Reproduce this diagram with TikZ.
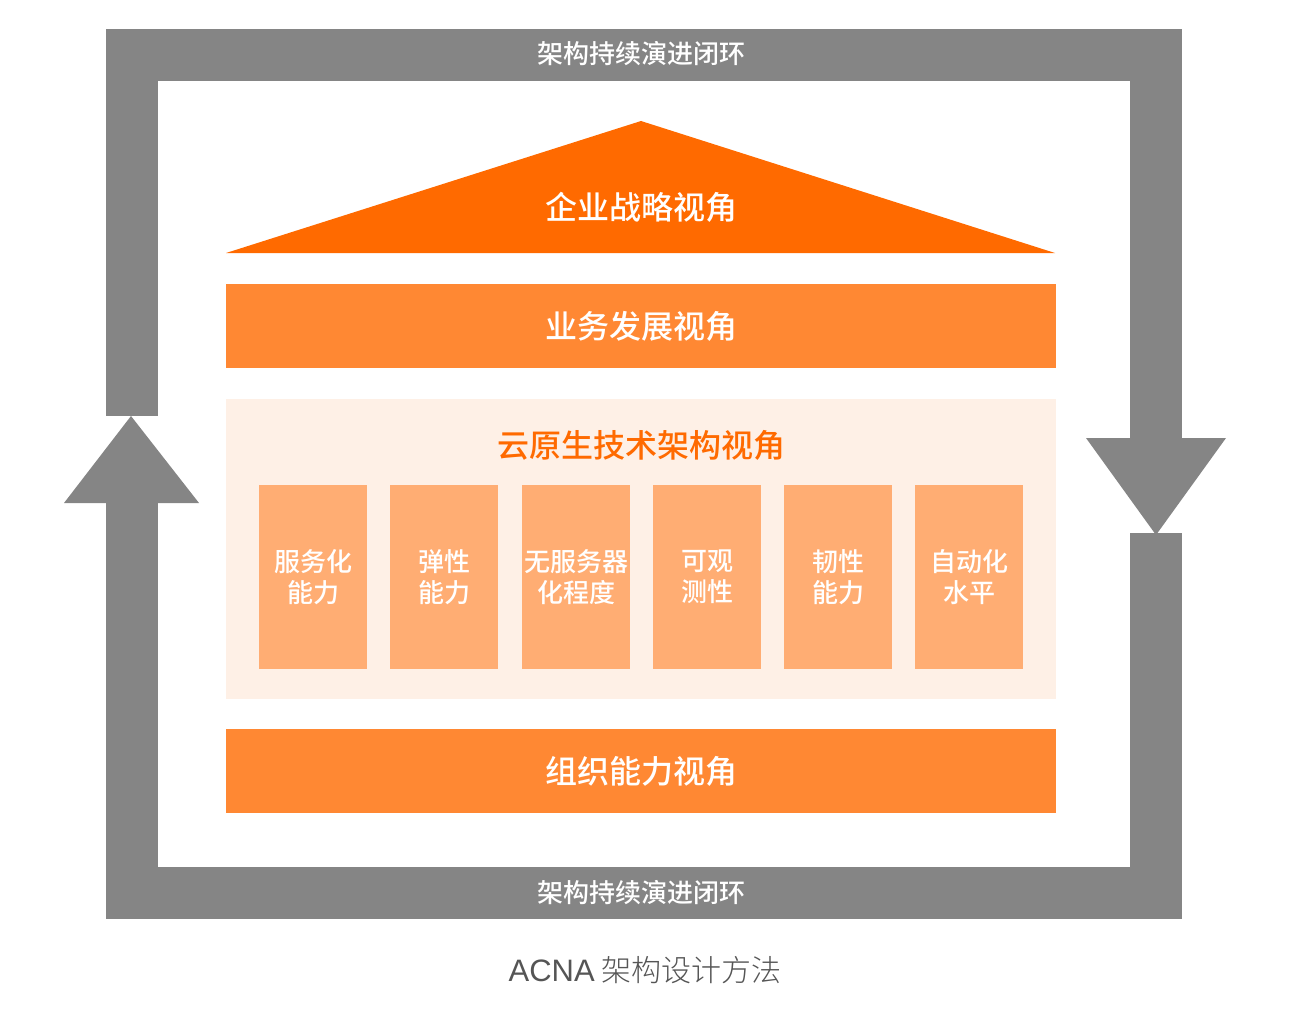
\documentclass[tikz,border=0pt]{standalone}
\usepackage{fontspec}
\setmainfont{Noto Sans CJK SC}
\newfontfamily\cjk{Noto Sans CJK SC}
\newfontfamily\cjkm{Noto Sans CJK SC Medium}
\newfontfamily\cjkl{Noto Sans CJK SC Light}
\newfontfamily\latinsans{Liberation Sans}
\usetikzlibrary{positioning}
\definecolor{gloop}{HTML}{858585}
\definecolor{odark}{HTML}{FF6A00}
\definecolor{omid}{HTML}{FF8833}
\definecolor{olight}{HTML}{FFAD73}
\definecolor{obg}{HTML}{FEF0E6}
\definecolor{captg}{HTML}{555555}
\tikzset{
  bigbar/.style={fill=omid, draw=none, minimum width=830pt, minimum height=84pt, inner sep=0pt,
    text=white, font=\cjkm\fontsize{32}{38}\selectfont},
  capbox/.style={fill=olight, draw=none, minimum width=108pt, minimum height=184pt, inner sep=0pt,
    text=white, align=center, font=\cjkm\fontsize{26}{31}\selectfont},
  looplabel/.style={text=white, font=\cjkm\fontsize{26}{30}\selectfont, inner sep=0pt},
}
\begin{document}
\begin{tikzpicture}[x=1pt,y=-1pt]
\useasboundingbox (0,0) rectangle (1292,1030);
% gray loop
\fill[gloop] (106,29) rectangle (1182,81);
\fill[gloop] (106,29) rectangle (158,416);
\fill[gloop] (1130,29) rectangle (1182,438);
\fill[gloop] (1086,438) -- (1226,438) -- (1156,535) -- cycle;
\fill[gloop] (1130,533) rectangle (1182,919);
\fill[gloop] (106,867) rectangle (1182,919);
\fill[gloop] (106,502) rectangle (158,919);
\fill[gloop] (64,503) -- (199,503) -- (131,416) -- cycle;
\node[looplabel] (looptop) at (641,54) {架构持续演进闭环};
\node[looplabel] (loopbot) at (641,893) {架构持续演进闭环};
% roof
\fill[odark] (226,253) -- (641,121) -- (1055,253) -- cycle;
\node[text=white, font=\cjkm\fontsize{32}{38}\selectfont, inner sep=0pt] (roof) at (641,207) {企业战略视角};
% business bar
\node[bigbar] (biz) at (641,326) {业务发展视角};
% cloud native
\node[fill=obg, draw=none, minimum width=830pt, minimum height=300pt, inner sep=0pt] (cn) at (641,549) {};
\node[text=odark, font=\cjkm\fontsize{32}{38}\selectfont, inner sep=0pt] (cntitle) at (641,445) {云原生技术架构视角};
\node[capbox] (c1) at (313,577) {服务化\\能力};
\node[capbox] (c2) at (444,577) {弹性\\能力};
\node[capbox] (c3) at (576,577) {无服务器\\化程度};
\node[capbox] (c4) at (707,577) {可观\\测性};
\node[capbox] (c5) at (838,577) {韧性\\能力};
\node[capbox] (c6) at (969,577) {自动化\\水平};
% org bar
\node[bigbar] (org) at (641,771) {组织能力视角};
% caption
\node[text=captg, font=\cjkl\fontsize{30}{34}\selectfont, inner sep=0pt] (cap) at (645,970) {{\latinsans\fontsize{31}{34}\selectfont ACNA} 架构设计方法};
\end{tikzpicture}
\end{document}
